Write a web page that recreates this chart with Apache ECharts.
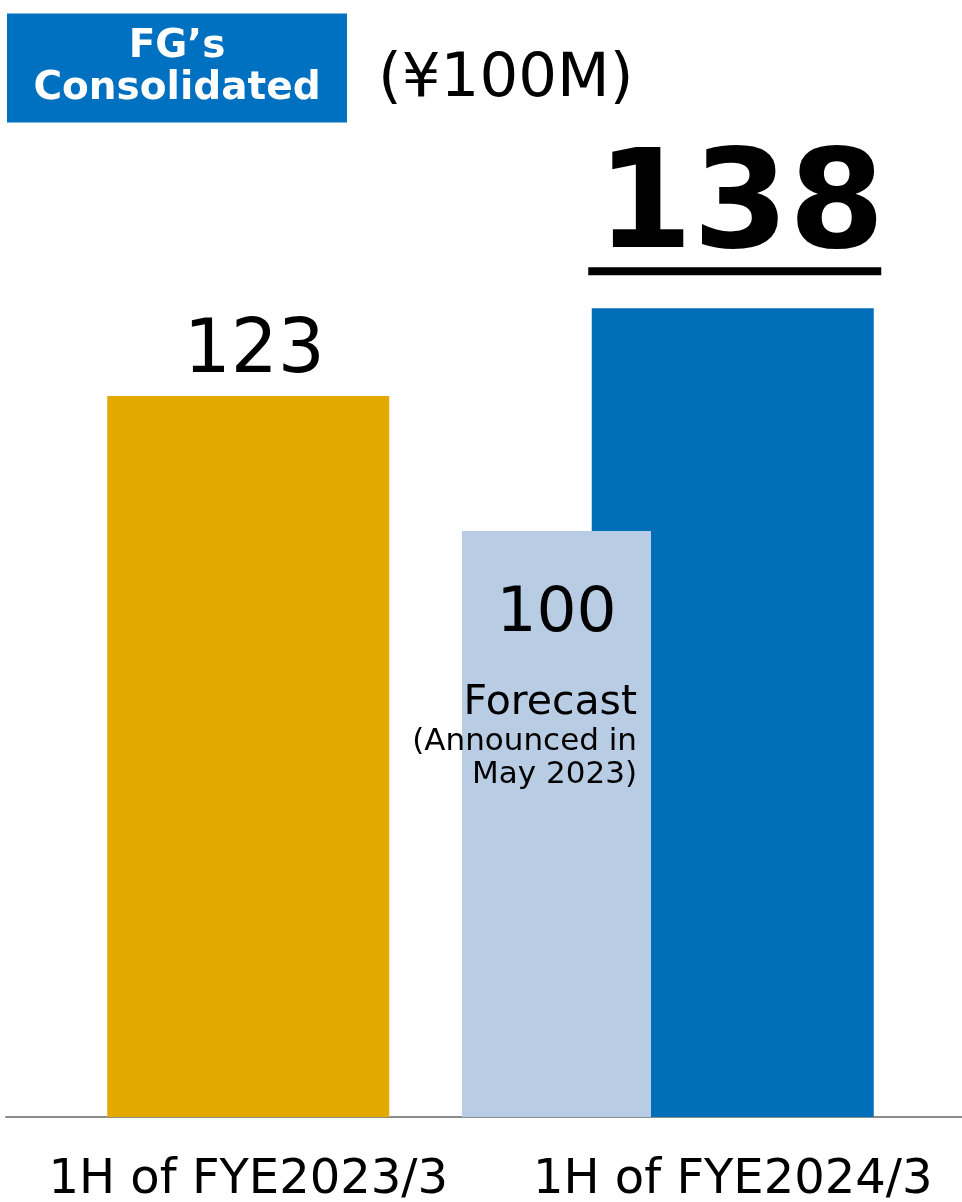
<!DOCTYPE html>
<html>
<head>
<meta charset="utf-8">
<script src="https://cdn.jsdelivr.net/npm/echarts@6/dist/echarts.min.js"></script>
<style>
  html, body { margin: 0; padding: 0; background: #fff; }
  #chart { width: 962px; height: 1202px; }
</style>
</head>
<body>
<div id="chart"></div>
<script>
const categories = ['1H of FYE2023/3', '1H of FYE2024/3'];
const results = [123, 138];
const forecast = ['-', 100];
const forecastNote = ['Forecast', '(Announced in', 'May 2023)'];
const boxTitle = ['FG’s', 'Consolidated'];
const unitLabel = '(¥100M)';

const gold = '#E3A900';
const blue = '#006EB9';
const lightBlue = '#B8CCE4';

const chart = echarts.init(document.getElementById('chart'));

// label for last year's result
const smallLabel = {
  show: true,
  position: 'top',
  distance: 6,
  offset: [6, 0],
  fontSize: 74,
  color: '#000',
};

// big bold value with underline
const bigLabel = {
  show: true,
  position: 'top',
  distance: 33,
  offset: [2, 0],
  formatter: (p) => `{v|${p.value}}\n{u| }`,
  rich: {
    v: { fontSize: 138, fontWeight: 'bold', color: '#000', lineHeight: 112, padding: [0, 0, 0, 12] },
    u: { width: 293, height: 8, lineHeight: 8, fontSize: 8, backgroundColor: '#000', align: 'center' },
  },
};

const option = {
  animation: false,
  textStyle: { fontFamily: 'DejaVu Sans' },
  title: [
    {
      text: boxTitle.map((t) => `{a|${t}}`).join('\n'),
      left: 7,
      top: 12,
      padding: [14, 0],
      backgroundColor: '#0070C0',
      textStyle: {
        rich: {
          a: { width: 340, align: 'center', fontSize: 39, fontWeight: 'bold', color: '#fff', lineHeight: 42, fontFamily: 'DejaVu Sans' },
        },
      },
    },
    {
      text: unitLabel,
      left: 378,
      top: 50,
      padding: 0,
      textStyle: { fontSize: 61, fontWeight: 'normal', color: '#000', fontFamily: 'DejaVu Sans' },
    },
  ],
  grid: [
    { left: 6, width: 969, top: 62, bottom: 85, outerBoundsMode: 'none', containLabel: false },
    { left: 0, width: 742, top: 62, bottom: 85, outerBoundsMode: 'none', containLabel: false },
  ],
  xAxis: [
    {
      type: 'category',
      gridIndex: 0,
      data: categories,
      axisLine: { lineStyle: { color: '#8c8c8c', width: 2 } },
      axisTick: { show: false },
      axisLabel: { fontSize: 48, color: '#000', margin: 40, interval: 0, showMinLabel: true, showMaxLabel: true },
    },
    { type: 'category', gridIndex: 1, data: categories, show: false },
  ],
  yAxis: [
    { type: 'value', gridIndex: 0, min: 0, max: 180, show: false },
    { type: 'value', gridIndex: 1, min: 0, max: 180, show: false },
  ],
  series: [
    {
      name: 'Result',
      type: 'bar',
      xAxisIndex: 0,
      yAxisIndex: 0,
      barWidth: 282,
      data: results.map((v, i) => ({
        value: v,
        itemStyle: { color: i === 0 ? gold : blue },
        label: i === 0 ? smallLabel : bigLabel,
      })),
    },
    {
      name: 'Forecast',
      type: 'bar',
      xAxisIndex: 1,
      yAxisIndex: 1,
      barWidth: 189,
      itemStyle: { color: lightBlue },
      label: {
        show: true,
        position: 'insideTop',
        distance: 18,
        width: 161,
        color: '#000',
        formatter: (p) =>
          [`{v|${p.value}}`].concat(forecastNote.map((t, i) => (i === 0 ? `{f|${t}}` : `{a|${t}}`))).join('\n'),
        rich: {
          v: { fontSize: 63, lineHeight: 131, align: 'center', color: '#000' },
          f: { fontSize: 41, lineHeight: 46, align: 'right', color: '#000' },
          a: { fontSize: 31, lineHeight: 33, align: 'right', color: '#000' },
        },
      },
      data: forecast,
    },
  ],
};

chart.setOption(option);
</script>
</body>
</html>
